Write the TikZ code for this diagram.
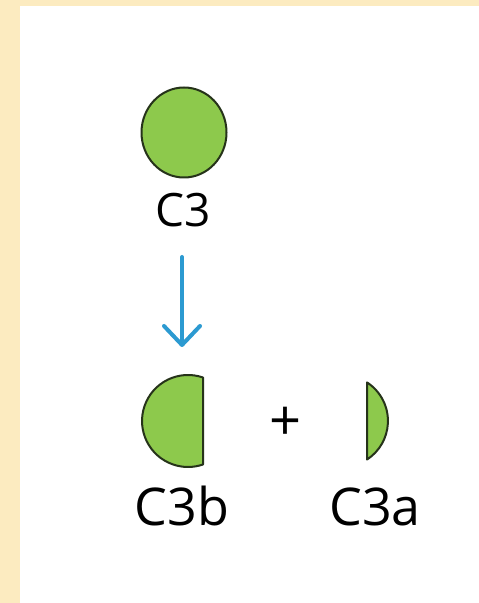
\documentclass[tikz,border=0pt]{standalone}
\usepackage{fontspec}
\setmainfont{Open Sans}
\usetikzlibrary{arrows.meta}
\definecolor{cream}{HTML}{FCEBC0}
\definecolor{cgreen}{HTML}{8DC94C}
\definecolor{cline}{HTML}{26331A}
\definecolor{cblue}{HTML}{2C9AD1}
\tikzset{
  part/.style={fill=cgreen,draw=cline,line width=2pt,line join=round},
  lab/.style={inner sep=0pt,anchor=base,text=black},
  biglab/.style={lab,font=\fontsize{52}{56}\selectfont},
  toplab/.style={lab,font=\fontsize{46}{50}\selectfont},
  conv/.style={draw=cblue,line width=4pt,line cap=round,line join=round,
    -{Straight Barb[length=19pt,width=36pt,line cap=round,line join=round]}}
}
\begin{document}
\begin{tikzpicture}[x=1pt,y=1pt]
\useasboundingbox (0,0) rectangle (479,603);
\fill[cream] (0,0) rectangle (479,603);
\fill[white] (20,0) rectangle (479,597);
% C3
\draw[part] (184,470.5) ellipse[x radius=42.5,y radius=45];
\node[toplab] (c3) at (183,376) {C3};
% arrow
\coordinate (astart) at (182,346);
\coordinate (aend) at (182,256);
\draw[conv] (astart) -- (aend);
% C3b
\draw[part] (203,225.5) arc[start angle=71,end angle=289,radius=46] -- cycle;
\node[biglab] (c3b) at (182,77) {C3b};
% plus
\node[inner sep=0pt,font=\fontsize{56}{60}\selectfont] (plus) at (286,179) {+};
% C3a
\draw[part] (367,220.6) arc[start angle=57,end angle=-57,radius=46] -- cycle;
\node[biglab] (c3a) at (375,77) {C3a};
\end{tikzpicture}
\end{document}
